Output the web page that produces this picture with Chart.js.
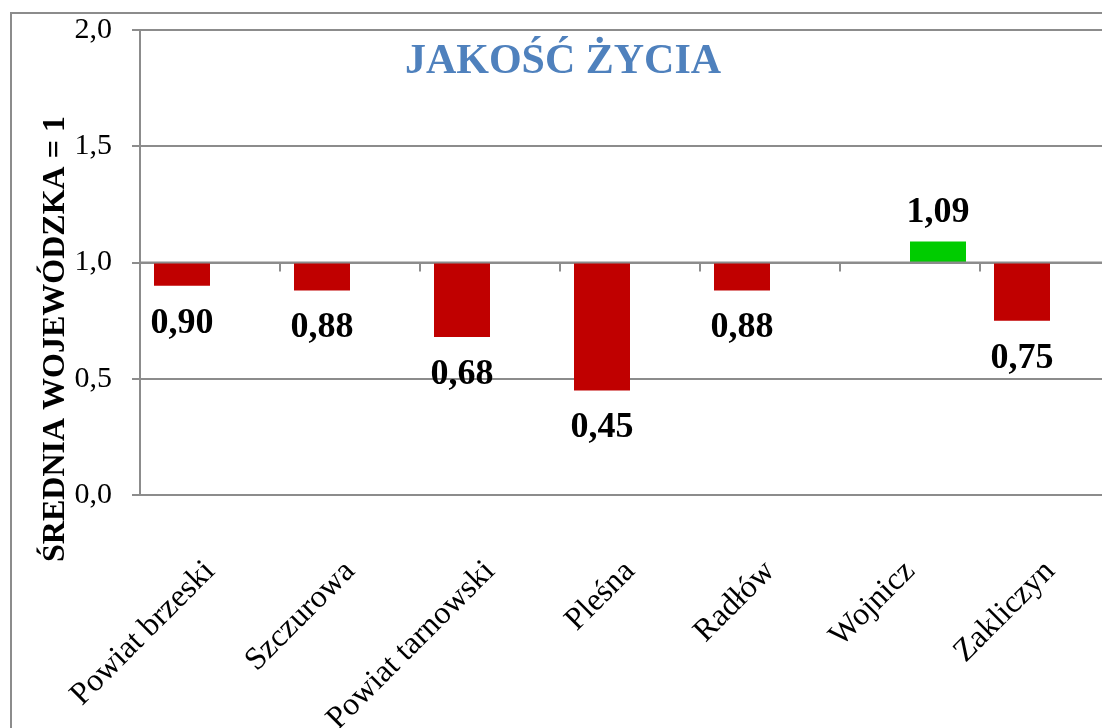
<!DOCTYPE html>
<html>
<head>
<meta charset="utf-8">
<script src="https://cdn.jsdelivr.net/npm/chart.js@4.4.1/dist/chart.umd.min.js"></script>
<style>
  html, body { margin: 0; padding: 0; background: #fff; overflow: hidden; }
  #wrap { position: relative; width: 1140px; height: 728px; }
</style>
</head>
<body>
<div id="wrap"><canvas id="c"></canvas></div>
<script>
const categories = ['Powiat brzeski', 'Szczurowa', 'Powiat tarnowski', 'Pleśna', 'Radłów', 'Wojnicz', 'Zakliczyn'];
const belowValues = [0.90, 0.88, 0.68, 0.45, 0.88, null, 0.75];
const aboveValues = [null, null, null, null, null, 1.09, null];
const baselineValue = 1;
const yTickValues = [0, 0.5, 1.0, 1.5, 2.0];
const chartTitle = 'JAKOŚĆ ŻYCIA';
const yAxisTitle = 'ŚREDNIA WOJEWÓDZKA = 1';

const GRID = '#8c8c8c';
const SERIF = "'Liberation Serif', 'Times New Roman', serif";

const toFloating = arr => arr.map(v => v == null ? null : [baselineValue, v]);
const fmt = (v, d) => v.toFixed(d).replace('.', ',');

const decorPlugin = {
  id: 'decor',
  beforeDraw(chart) {
    const ctx = chart.ctx;
    ctx.save();
    ctx.fillStyle = '#fff';
    ctx.fillRect(0, 0, chart.width, chart.height);
    ctx.strokeStyle = GRID;
    ctx.lineWidth = 2;
    ctx.strokeRect(11, 13, 3000, 3000);
    ctx.restore();
  },
  afterDatasetsDraw(chart) {
    const ctx = chart.ctx;
    const xs = chart.scales.x, ys = chart.scales.y;
    const y1 = ys.getPixelForValue(baselineValue);
    ctx.save();
    // category axis crossing at 1
    ctx.strokeStyle = GRID;
    ctx.lineWidth = 2;
    ctx.beginPath();
    ctx.moveTo(chart.chartArea.left, y1);
    ctx.lineTo(chart.chartArea.right, y1);
    const n = categories.length;
    const step = (xs.right - xs.left) / n;
    for (let i = 1; i < n; i++) {
      const x = Math.round(xs.left + i * step);
      ctx.moveTo(x, y1);
      ctx.lineTo(x, y1 + 9);
    }
    ctx.stroke();

    // value labels
    ctx.fillStyle = '#000';
    ctx.font = 'bold 36px ' + SERIF;
    ctx.textAlign = 'center';
    ctx.textBaseline = 'alphabetic';
    chart.data.datasets.forEach((ds, di) => {
      const meta = chart.getDatasetMeta(di);
      meta.data.forEach((el, i) => {
        const raw = ds.data[i];
        if (!raw) return;
        const v = raw[1];
        const top = Math.min(el.y, el.base), bottom = Math.max(el.y, el.base);
        const ty = v < baselineValue ? bottom + 47 : top - 20;
        ctx.fillText(fmt(v, 2), el.x, ty);
      });
    });

    // title
    ctx.fillStyle = '#4F81BD';
    ctx.font = 'bold 42px ' + SERIF;
    ctx.fillText(chartTitle, 563, 73);

    // y axis title
    ctx.fillStyle = '#000';
    ctx.font = 'bold 32px ' + SERIF;
    ctx.translate(64, 339);
    ctx.rotate(-Math.PI / 2);
    ctx.fillText(yAxisTitle, 0, 0);
    ctx.restore();
  }
};

new Chart(document.getElementById('c'), {
  type: 'bar',
  data: {
    labels: categories,
    datasets: [
      { data: toFloating(belowValues), backgroundColor: '#C00000', borderWidth: 0 },
      { data: toFloating(aboveValues), backgroundColor: '#00CC00', borderWidth: 0 }
    ]
  },
  options: {
    responsive: true,
    maintainAspectRatio: false,
    devicePixelRatio: 1,
    animation: false,
    categoryPercentage: 0.8,
    barPercentage: 1.0,
    layout: { padding: { top: 30, left: 0, right: 20, bottom: 0 } },
    plugins: { legend: { display: false }, tooltip: { enabled: false }, title: { display: false } },
    scales: {
      x: {
        grid: { display: false },
        border: { display: false },
        ticks: {
          color: '#000',
          font: { family: SERIF, size: 32 },
          maxRotation: 45,
          minRotation: 45,
          autoSkip: false,
          padding: 50
        },
        afterFit(s) { s.height = 233; }
      },
      y: {
        min: 0,
        max: 2,
        afterBuildTicks(s) { s.ticks = yTickValues.map(v => ({ value: v })); },
        grid: { color: GRID, lineWidth: 2, tickLength: 8, drawTicks: true },
        border: { display: true, color: GRID, width: 2 },
        ticks: {
          color: '#000',
          font: { family: SERIF, size: 30 },
          padding: 20,
          callback: v => fmt(v, 1)
        },
        afterFit(s) { s.width = 140; s.paddingTop = 0; s.paddingBottom = 0; }
      }
    }
  },
  plugins: [decorPlugin]
});
</script>
</body>
</html>
